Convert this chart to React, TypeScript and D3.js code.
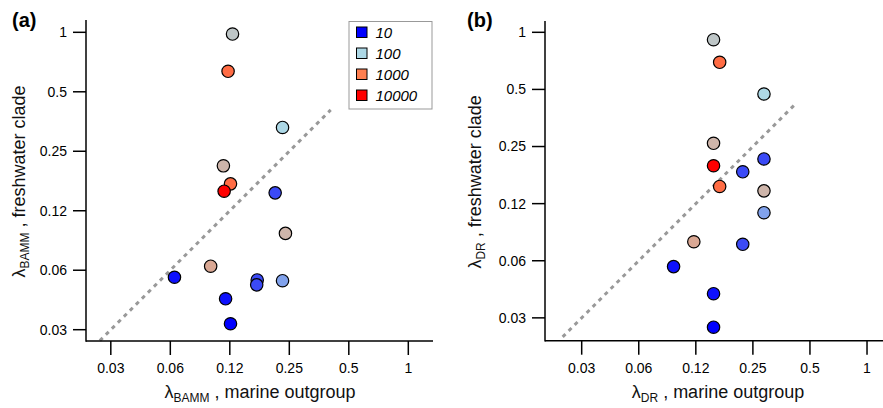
import React from 'react'
import * as d3 from 'd3'

// tick values are powers of two, labelled rounded like the original
const tickValues = [1 / 32, 1 / 16, 1 / 8, 1 / 4, 1 / 2, 1]
const tickLabels = ['0.03', '0.06', '0.12', '0.25', '0.5', '1']

// legend classes (clade size)
const legendValues = [10, 100, 1000, 10000]
const legendLabels = ['10', '100', '1000', '10000']

// panel (a): lambda BAMM
const bammMarine = [0.129, 0.1225, 0.231, 0.116, 0.126, 0.117, 0.212, 0.239, 0.1, 0.0656, 0.172, 0.171, 0.231, 0.119, 0.126]
const bammFresh = [0.98, 0.635, 0.33, 0.211, 0.171, 0.157, 0.154, 0.096, 0.0655, 0.0576, 0.0558, 0.0527, 0.0553, 0.0448, 0.0335]
const bammSize = [160, 1400, 100, 250, 1400, 10000, 22, 250, 350, 12, 22, 22, 56, 12, 10]

// panel (b): lambda DR
const drMarine = [0.155, 0.167, 0.286, 0.155, 0.286, 0.155, 0.221, 0.167, 0.286, 0.286, 0.122, 0.221, 0.0954, 0.155, 0.155]
const drFresh = [0.914, 0.695, 0.473, 0.26, 0.215, 0.198, 0.184, 0.154, 0.146, 0.112, 0.0787, 0.0763, 0.0582, 0.0419, 0.0279]
const drSize = [160, 1400, 100, 250, 22, 10000, 22, 1400, 250, 56, 350, 22, 12, 12, 10]

// 1:1 line extent
const oneToOneA = [0.0275, 0.405]
const oneToOneB = [0.0248, 0.42]

const color = d3.scaleLog<string>()
  .domain(legendValues)
  .range(['#0000ff', '#add8e6', '#ff7f50', '#ff0000'])
  .interpolate(d3.interpolateRgb)

const FONT = '"Liberation Sans", Arial, sans-serif'

function Panel({ label, labelX, sub, xs, ys, sizes, line, xDomain, yDomain, xRange, yRange, legend, yTitleX, xTitleX }) {
  const x = d3.scaleLog().base(2).domain(xDomain).range(xRange)
  const y = d3.scaleLog().base(2).domain(yDomain).range(yRange)
  const x0 = xRange[0]
  const y0 = yRange[0]
  const order = d3.range(xs.length).sort((a, b) => sizes[a] - sizes[b])
  return (
    <g fontFamily={FONT}>
      <text x={labelX} y={27} fontSize={20} fontWeight="bold">{label}</text>

      <line x1={x(line[0])} y1={y(line[0])} x2={x(line[1])} y2={y(line[1])}
        stroke="#999" strokeWidth={3} strokeDasharray="4,4.5" />

      {order.map(i => (
        <circle key={i} cx={x(xs[i])} cy={y(ys[i])} r={6.2}
          fill={color(sizes[i])} stroke="#000" strokeWidth={1.2} />
      ))}

      {/* axes */}
      <line x1={x0} y1={yRange[1]} x2={x0} y2={y0 + 0.75} stroke="#000" strokeWidth={1.5} />
      <line x1={x0} y1={y0} x2={xRange[1]} y2={y0} stroke="#000" strokeWidth={1.5} />
      {tickValues.map((t, i) => (
        <g key={'y' + i}>
          <line x1={x0 - 13} x2={x0} y1={y(t)} y2={y(t)} stroke="#000" strokeWidth={1.5} />
          <text x={x0 - 19} y={y(t)} dy="0.35em" textAnchor="end" fontSize={14}>{tickLabels[i]}</text>
        </g>
      ))}
      {tickValues.map((t, i) => (
        <g key={'x' + i}>
          <line x1={x(t)} x2={x(t)} y1={y0} y2={y0 + 14} stroke="#000" strokeWidth={1.5} />
          <text x={x(t)} y={y0 + 32} textAnchor="middle" fontSize={14}>{tickLabels[i]}</text>
        </g>
      ))}

      <text x={xTitleX} y={398} textAnchor="middle" fontSize={18} fill="#111">
        <tspan>λ</tspan><tspan fontSize={12} dy={4}>{sub}</tspan><tspan dy={-4}> , marine outgroup</tspan>
      </text>
      <text transform={`translate(${yTitleX},${(yRange[0] + yRange[1]) / 2 + 1}) rotate(-90)`}
        textAnchor="middle" fontSize={18} fill="#111">
        <tspan>λ</tspan><tspan fontSize={12} dy={4}>{sub}</tspan><tspan dy={-4}> , freshwater clade</tspan>
      </text>

      {legend && (
        <g>
          <rect x={349} y={21.5} width={83} height={87.5} fill="#fff" stroke="#999" strokeWidth={1} />
          {legendValues.map((v, i) => (
            <g key={v}>
              <rect x={356.5} y={27 + i * 21} width={10.5} height={10.5} fill={color(v)} stroke="#000" strokeWidth={1} />
              <text x={375.5} y={32.5 + i * 21} dy="0.36em" fontSize={15} fontStyle="italic">{legendLabels[i]}</text>
            </g>
          ))}
        </g>
      )}
    </g>
  )
}

export default function App() {
  return (
    <svg width={883} height={408} style={{ position: 'absolute', left: 0, top: 0, background: '#fff' }}>
      <Panel label="(a)" labelX={12} sub="BAMM" xs={bammMarine} ys={bammFresh} sizes={bammSize} line={oneToOneA}
        xDomain={[Math.pow(2, -5.417), Math.pow(2, 0.415)]} xRange={[86, 433]}
        yDomain={[Math.pow(2, -5.19), Math.pow(2, 0.207)]} yRange={[341, 20]}
        legend yTitleX={25} xTitleX={260} />
      <Panel label="(b)" labelX={467} sub="DR" xs={drMarine} ys={drFresh} sizes={drSize} line={oneToOneB}
        xDomain={[Math.pow(2, -5.643), Math.pow(2, 0.28)]} xRange={[545, 883]}
        yDomain={[Math.pow(2, -5.4), Math.pow(2, 0.198)]} yRange={[340.7, 21]}
        legend={false} yTitleX={481} xTitleX={718} />
    </svg>
  )
}
